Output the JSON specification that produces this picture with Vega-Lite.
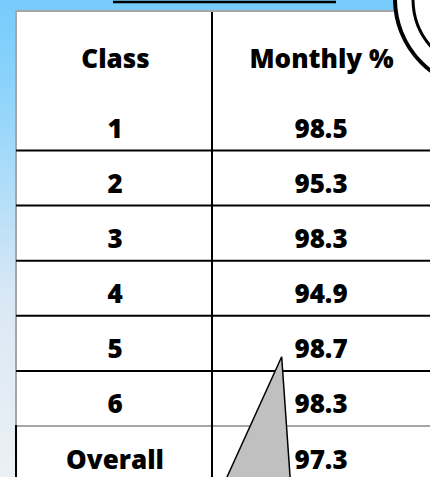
{
  "$schema": "https://vega.github.io/schema/vega-lite/v6.json",
  "width": 430,
  "height": 477,
  "autosize": {"type": "none"},
  "padding": 0,
  "background": "#ffffff",
  "config": {"view": {"stroke": null}},
  "datasets": {
    "table": [
      {"Class": "1", "Monthly %": 98.5},
      {"Class": "2", "Monthly %": 95.3},
      {"Class": "3", "Monthly %": 98.3},
      {"Class": "4", "Monthly %": 94.9},
      {"Class": "5", "Monthly %": 98.7},
      {"Class": "6", "Monthly %": 98.3},
      {"Class": "Overall", "Monthly %": 97.3}
    ]
  },
  "resolve": {
    "scale": {"x": "independent", "y": "independent"},
    "axis": {"x": "independent", "y": "independent"}
  },
  "layer": [
    {
      "data": {"values": [{}]},
      "mark": {
        "type": "rect",
        "clip": true,
        "fill": {
          "gradient": "linear", "x1": 0, "y1": 0, "x2": 0, "y2": 1,
          "stops": [
            {"offset": 0, "color": "#76cbfc"},
            {"offset": 0.2, "color": "#8fd4fb"},
            {"offset": 0.63, "color": "#dae8f5"},
            {"offset": 1, "color": "#ebf0f4"}
          ]
        }
      },
      "encoding": {
        "x": {"datum": 0, "type": "quantitative", "scale": {"domain": [0, 430], "nice": false, "zero": false}, "axis": null},
        "x2": {"datum": 430},
        "y": {"datum": 0, "type": "quantitative", "scale": {"domain": [477, 0], "nice": false, "zero": false}, "axis": null},
        "y2": {"datum": 477}
      }
    },
    {
      "data": {"values": [{}]},
      "mark": {"type": "rect", "clip": true, "fill": "#ffffff", "stroke": "#a6a6a6", "strokeWidth": 2},
      "encoding": {
        "x": {"datum": 16, "type": "quantitative", "scale": {"domain": [0, 430], "nice": false, "zero": false}, "axis": null},
        "x2": {"datum": 450},
        "y": {"datum": 11, "type": "quantitative", "scale": {"domain": [477, 0], "nice": false, "zero": false}, "axis": null},
        "y2": {"datum": 500}
      }
    },
    {
      "data": {"values": [{}]},
      "mark": {"type": "point", "shape": "circle", "filled": true, "fill": "#ffffff", "stroke": "#000000", "strokeWidth": 4, "size": 32400, "opacity": 1, "clip": true},
      "encoding": {
        "x": {"datum": 485, "type": "quantitative", "scale": {"domain": [0, 430], "nice": false, "zero": false}, "axis": null},
        "y": {"datum": -1, "type": "quantitative", "scale": {"domain": [477, 0], "nice": false, "zero": false}, "axis": null}
      }
    },
    {
      "data": {"values": [{}]},
      "mark": {"type": "point", "shape": "circle", "filled": true, "fill": "#ffffff", "stroke": "#000000", "strokeWidth": 3, "size": 20736, "opacity": 1, "clip": true},
      "encoding": {
        "x": {"datum": 485, "type": "quantitative", "scale": {"domain": [0, 430], "nice": false, "zero": false}, "axis": null},
        "y": {"datum": -1, "type": "quantitative", "scale": {"domain": [477, 0], "nice": false, "zero": false}, "axis": null}
      }
    },
    {
      "data": {"name": "table"},
      "mark": {"type": "rule", "strokeWidth": 2},
      "encoding": {
        "y": {"field": "Class", "type": "nominal", "bandPosition": 1, "scale": {"domain": ["1", "2", "3", "4", "5", "6", "Overall"], "range": [95.4, 481.1], "paddingInner": 0, "paddingOuter": 0}, "axis": null},
        "x": {"datum": 16, "type": "quantitative", "scale": {"domain": [0, 430], "nice": false, "zero": false}, "axis": null},
        "x2": {"datum": 430},
        "color": {"condition": {"test": "datum.Class === '6'", "value": "#a6a6a6"}, "value": "#000000"}
      }
    },
    {
      "data": {"values": [{}]},
      "mark": {"type": "rule", "strokeWidth": 2, "color": "#000000"},
      "encoding": {
        "x": {"datum": 212, "type": "quantitative", "scale": {"domain": [0, 430], "nice": false, "zero": false}, "axis": null},
        "y": {"datum": 12, "type": "quantitative", "scale": {"domain": [477, 0], "nice": false, "zero": false}, "axis": null},
        "y2": {"datum": 477}
      }
    },
    {
      "data": {"values": [{}]},
      "mark": {"type": "rule", "strokeWidth": 2, "color": "#000000"},
      "encoding": {
        "x": {"datum": 16, "type": "quantitative", "scale": {"domain": [0, 430], "nice": false, "zero": false}, "axis": null},
        "y": {"datum": 425, "type": "quantitative", "scale": {"domain": [477, 0], "nice": false, "zero": false}, "axis": null},
        "y2": {"datum": 477}
      }
    },
    {
      "data": {"values": [{}]},
      "mark": {"type": "rule", "strokeWidth": 2.5, "color": "#000000"},
      "encoding": {
        "x": {"datum": 113, "type": "quantitative", "scale": {"domain": [0, 430], "nice": false, "zero": false}, "axis": null},
        "x2": {"datum": 336},
        "y": {"datum": 2, "type": "quantitative", "scale": {"domain": [477, 0], "nice": false, "zero": false}, "axis": null}
      }
    },
    {
      "data": {"name": "table"},
      "transform": [{"fold": ["Class", "Monthly %"], "as": ["column", "value"]}],
      "mark": {"type": "text", "font": "Open Sans", "fontWeight": 800, "fontSize": 26, "color": "#000000", "align": "center", "baseline": "middle", "dy": 7},
      "encoding": {
        "x": {
          "field": "column", "type": "nominal",
          "scale": {"domain": ["Class", "Monthly %"], "range": [12, 424], "paddingInner": 0, "paddingOuter": 0},
          "axis": {"orient": "top", "zindex": 2, "title": null, "labelAngle": 0, "labelFont": "Open Sans", "labelFontWeight": 800, "labelFontSize": 26, "labelColor": "#000000", "labelBaseline": "middle", "labelPadding": -59, "tickSize": 0, "ticks": false, "domain": false, "grid": false, "labelOverlap": false, "labelBound": false, "labelLimit": 0}
        },
        "y": {"field": "Class", "type": "nominal", "scale": {"domain": ["1", "2", "3", "4", "5", "6", "Overall"], "range": [95.4, 481.1], "paddingInner": 0, "paddingOuter": 0}, "axis": null},
        "text": {"field": "value", "type": "nominal"}
      }
    },
    {
      "data": {"values": [{}]},
      "mark": {"type": "point", "shape": "M0.271,-0.791L0.396,1L-0.543,1Z", "filled": true, "fill": "#c0c0c0", "stroke": "#000000", "strokeWidth": 1.5, "size": 25600, "opacity": 1, "clip": true},
      "encoding": {
        "x": {"datum": 260, "type": "quantitative", "scale": {"domain": [0, 430], "nice": false, "zero": false}, "axis": null},
        "y": {"datum": 420, "type": "quantitative", "scale": {"domain": [477, 0], "nice": false, "zero": false}, "axis": null}
      }
    }
  ]
}
